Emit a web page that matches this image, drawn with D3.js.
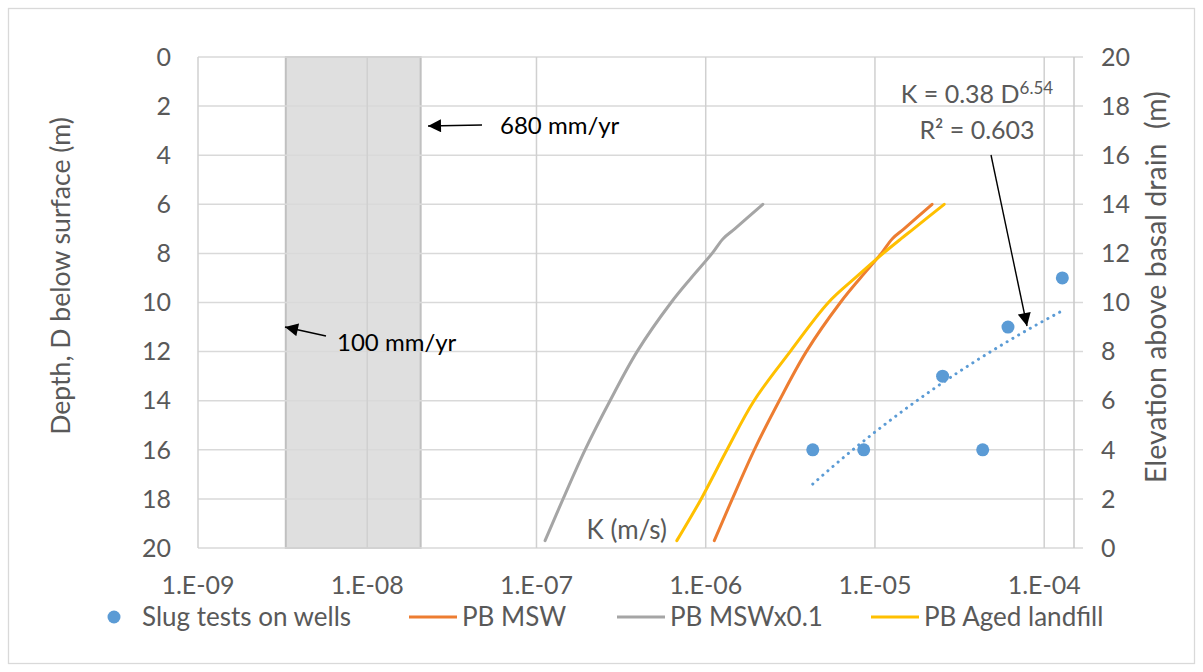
<!DOCTYPE html>
<html>
<head>
<meta charset="utf-8">
<script src="https://cdn.jsdelivr.net/npm/d3@7"></script>
<style>
  body { margin: 0; background: #fff; }
  svg text { font-family: Lato, "Open Sans", sans-serif; fill: #595959; }
</style>
</head>
<body>
<div class="chart"></div>
<script>
// depth (m) at which the curves were computed
var curveDepth = [6, 7, 7.4, 8, 9, 10, 12, 14, 16, 18, 19.7];
var kMSW = [2.175e-5, 1.484e-5, 1.267e-5, 1.091e-5, 8.2e-6, 6.245e-6, 3.93e-6, 2.72e-6, 1.937e-6, 1.436e-6, 1.124e-6];
var kMSWx01 = [2.175e-6, 1.484e-6, 1.267e-6, 1.091e-6, 8.2e-7, 6.245e-7, 3.93e-7, 2.72e-7, 1.937e-7, 1.436e-7, 1.124e-7];
var kAged = [2.565e-5, 1.69e-5, 1.428e-5, 1.118e-5, 7.64e-6, 5.31e-6, 3.155e-6, 1.93e-6, 1.336e-6, 9.4e-7, 6.75e-7];

// slug tests
var slugK = [4.29e-6, 8.58e-6, 2.51e-5, 6.11e-5, 1.28e-4, 4.33e-5];
var slugDepth = [16, 16, 13, 11, 9, 16];

// infiltration band, mm/yr
var rechargeRates = [100, 680];

var xTicks = [1e-9, 1e-8, 1e-7, 1e-6, 1e-5, 1e-4];
var xTickLabels = ['1.E-09', '1.E-08', '1.E-07', '1.E-06', '1.E-05', '1.E-04'];
var depthTicks = [0, 2, 4, 6, 8, 10, 12, 14, 16, 18, 20];
var elevTicks = [20, 18, 16, 14, 12, 10, 8, 6, 4, 2, 0];

var seriesNames = ['Slug tests on wells', 'PB MSW', 'PB MSWx0.1', 'PB Aged landfill'];
var colors = ['#5b9bd5', '#ed7d31', '#a5a5a5', '#ffc000'];

var width = 1203, height = 672;
var plotL = 198, plotT = 57, plotR = 1074, plotB = 548;
var TICK_FONT = 25, NOTE_FONT = 24, LEGEND_FONT = 26;

var svg = d3.select('.chart').append('svg')
  .attr('width', width)
  .attr('height', height);

// chart border
svg.append('rect')
  .attr('x', 8.5).attr('y', 8.5)
  .attr('width', 1186).attr('height', 655)
  .attr('fill', 'none')
  .attr('stroke', '#d9d9d9')
  .attr('stroke-width', 1.3);

var x = d3.scaleLog().domain([1e-9, 1.5e-4]).range([plotL, plotR]);
var y = d3.scaleLinear().domain([0, 20]).range([plotT, plotB]);
var yR = d3.scaleLinear().domain([20, 0]).range([plotT, plotB]);

// band between the two recharge rates, converted to m/s
var secPerYear = 365.25 * 86400;
var bandK = rechargeRates.map(function (r) { return r / 1000 / secPerYear; });
var BAND_STROKE = 2;
svg.append('rect')
  .attr('x', x(bandK[0]) + BAND_STROKE + 1)
  .attr('y', y(0))
  .attr('width', x(bandK[1]) - x(bandK[0]) - 2 * BAND_STROKE - 2)
  .attr('height', y(20) - y(0))
  .attr('fill', '#dfdfdf')
  .attr('stroke', '#c0c0c0')
  .attr('stroke-width', BAND_STROKE);

// gridlines
svg.append('g').selectAll('line')
  .data(depthTicks)
  .enter().append('line')
  .attr('x1', plotL).attr('x2', plotR + 9)
  .attr('y1', function (d) { return y(d); })
  .attr('y2', function (d) { return y(d); })
  .attr('stroke', '#d9d9d9')
  .attr('stroke-width', 1.5);

svg.append('g').selectAll('line')
  .data(xTicks)
  .enter().append('line')
  .attr('x1', function (d) { return x(d); })
  .attr('x2', function (d) { return x(d); })
  .attr('y1', plotT).attr('y2', plotB)
  .attr('stroke', '#d0d0d0')
  .attr('stroke-width', 1.5);

// right axis line
svg.append('line')
  .attr('x1', plotR).attr('x2', plotR)
  .attr('y1', plotT).attr('y2', plotB)
  .attr('stroke', '#c8c8c8')
  .attr('stroke-width', 1.5);

// tick labels
svg.append('g').selectAll('text')
  .data(depthTicks)
  .enter().append('text')
  .attr('x', 171)
  .attr('y', function (d) { return y(d); })
  .attr('dy', '0.35em')
  .attr('text-anchor', 'end')
  .style('font-size', TICK_FONT + 'px')
  .text(function (d) { return d; });

svg.append('g').selectAll('text')
  .data(elevTicks)
  .enter().append('text')
  .attr('x', 1101)
  .attr('y', function (d) { return yR(d); })
  .attr('dy', '0.35em')
  .attr('text-anchor', 'start')
  .style('font-size', TICK_FONT + 'px')
  .text(function (d) { return d; });

svg.append('g').selectAll('text')
  .data(xTicks)
  .enter().append('text')
  .attr('x', function (d) { return x(d); })
  .attr('y', 585)
  .attr('dy', '0.35em')
  .attr('text-anchor', 'middle')
  .style('font-size', TICK_FONT + 'px')
  .text(function (d, i) { return xTickLabels[i]; });

// axis titles
svg.append('text')
  .attr('transform', 'translate(70,276) rotate(-90)')
  .attr('text-anchor', 'middle')
  .style('font-size', '26.6px')
  .text('Depth, D below surface (m)');

svg.append('text')
  .attr('transform', 'translate(1166,287) rotate(-90)')
  .attr('text-anchor', 'middle')
  .style('font-size', '28.5px')
  .style('white-space', 'pre')
  .text('Elevation above basal drain  (m)');

svg.append('text')
  .attr('x', 667).attr('y', 530)
  .attr('dy', '0.35em')
  .attr('text-anchor', 'end')
  .style('font-size', LEGEND_FONT + 'px')
  .text('K (m/s)');

// curves
var line = d3.line()
  .x(function (d) { return x(d[0]); })
  .y(function (d) { return y(d[1]); })
  .curve(d3.curveCatmullRom.alpha(0.5));

var curves = [kMSW, kMSWx01, kAged];
curves.forEach(function (ks, i) {
  svg.append('path')
    .datum(ks.map(function (k, j) { return [k, curveDepth[j]]; }))
    .attr('d', line)
    .attr('fill', 'none')
    .attr('stroke', colors[i + 1])
    .attr('stroke-width', 3)
    .attr('stroke-linecap', 'round');
});

// power trendline, D = a K^b (least squares in log-log)
var lx = slugK.map(Math.log), ly = slugDepth.map(Math.log);
var mx = d3.mean(lx), my = d3.mean(ly);
var sxy = d3.sum(lx, function (v, i) { return (v - mx) * (ly[i] - my); });
var sxx = d3.sum(lx, function (v) { return (v - mx) * (v - mx); });
var b = sxy / sxx;
var kMin = d3.min(slugK), kMax = d3.max(slugK);
var trend = d3.range(0, 41).map(function (i) {
  var k = Math.exp(Math.log(kMin) + (Math.log(kMax) - Math.log(kMin)) * i / 40);
  return [k, Math.exp(my + b * (Math.log(k) - mx))];
});
svg.append('path')
  .datum(trend)
  .attr('d', d3.line().x(function (d) { return x(d[0]); }).y(function (d) { return y(d[1]); }))
  .attr('fill', 'none')
  .attr('stroke', colors[0])
  .attr('stroke-width', 3)
  .attr('stroke-linecap', 'round')
  .attr('stroke-dasharray', '0.1,6.6');

svg.append('g').selectAll('circle')
  .data(slugK)
  .enter().append('circle')
  .attr('cx', function (d) { return x(d); })
  .attr('cy', function (d, i) { return y(slugDepth[i]); })
  .attr('r', 6.5)
  .attr('fill', colors[0]);

// annotations
svg.append('defs').append('marker')
  .attr('id', 'head')
  .attr('viewBox', '0 0 10 10')
  .attr('refX', 10).attr('refY', 5)
  .attr('markerWidth', 14).attr('markerHeight', 13)
  .attr('markerUnits', 'userSpaceOnUse')
  .attr('orient', 'auto')
  .append('path')
  .attr('d', 'M0,0 L10,5 L0,10 z')
  .attr('fill', '#000');

function arrow(x1, y1, x2, y2) {
  svg.append('line')
    .attr('x1', x1).attr('y1', y1)
    .attr('x2', x2).attr('y2', y2)
    .attr('stroke', '#000')
    .attr('stroke-width', 1.4)
    .attr('marker-end', 'url(#head)');
}

arrow(482, 125, 428, 126);
svg.append('text')
  .attr('x', 500).attr('y', 126)
  .attr('dy', '0.35em')
  .style('font-size', NOTE_FONT + 'px')
  .style('fill', '#000')
  .text(rechargeRates[1] + ' mm/yr');

arrow(326, 336, 285, 327);
svg.append('text')
  .attr('x', 337).attr('y', 343)
  .attr('dy', '0.35em')
  .style('font-size', NOTE_FONT + 'px')
  .style('fill', '#000')
  .text(rechargeRates[0] + ' mm/yr');

var eq = svg.append('text')
  .attr('x', 977).attr('y', 103)
  .attr('text-anchor', 'middle')
  .style('font-size', TICK_FONT + 'px');
eq.append('tspan').text('K = 0.38 D');
eq.append('tspan').attr('dy', -9).style('font-size', '17px').text('6.54');

svg.append('text')
  .attr('x', 977).attr('y', 139)
  .attr('text-anchor', 'middle')
  .style('font-size', TICK_FONT + 'px')
  .text('R\u00b2 = 0.603');

arrow(991, 155, 1027, 326);

// legend
var legendX = [114, 409, 617, 871];
var legend = svg.append('g');
seriesNames.forEach(function (name, i) {
  var lg = legend.append('g').attr('transform', 'translate(' + legendX[i] + ',617)');
  if (i === 0) {
    lg.append('circle').attr('r', 6.5).attr('fill', colors[0]);
    lg.append('text').attr('x', 28).attr('dy', '0.35em').style('font-size', LEGEND_FONT + 'px').text(name);
  } else {
    lg.append('line').attr('x1', 0).attr('x2', 48)
      .attr('stroke', colors[i]).attr('stroke-width', 3);
    lg.append('text').attr('x', 53).attr('dy', '0.35em').style('font-size', LEGEND_FONT + 'px').text(name);
  }
});
</script>
</body>
</html>
